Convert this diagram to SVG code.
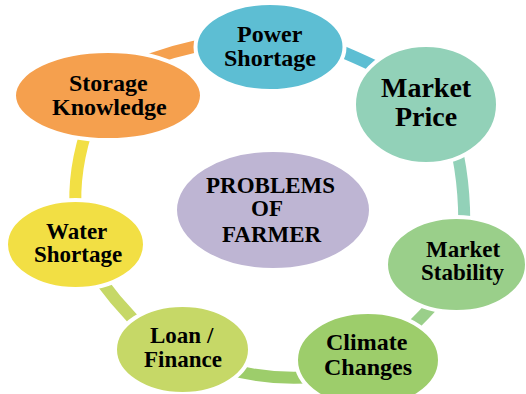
<svg xmlns="http://www.w3.org/2000/svg" width="526" height="394" viewBox="0 0 526 394">
  <rect width="526" height="394" fill="#ffffff"/>

  <!-- cycle arcs, each coloured like the node it leaves -->
  <g id="connectors" fill="none" stroke-width="12" stroke-linecap="butt">
    <path stroke="#F5A04E" d="M135,66 Q170,50 215,43"/>
    <path stroke="#5DBED3" d="M325,45 Q350,54 395,76"/>
    <path stroke="#92D1B8" d="M452,130 Q466,180 464,235"/>
    <path stroke="#9ACF8A" d="M448,288 Q425,315 398,340"/>
    <path stroke="#9DCD6B" d="M225,368 Q272,382 325,376"/>
    <path stroke="#C6D867" d="M88,262 Q112,300 150,336"/>
    <path stroke="#F2DF44" d="M90,120 Q72,170 76,215"/>
  </g>

  <!-- nodes: white-rimmed ellipses with bold serif captions -->
  <g id="center">
    <ellipse stroke="#ffffff" stroke-width="4" cx="273" cy="210" rx="98" ry="60" fill="#BEB5D3"/>
    <text font-family="Times New Roman, Liberation Serif, DejaVu Serif, serif" font-weight="bold" font-size="23" x="206" y="193">PROBLEMS</text>
    <text font-family="Times New Roman, Liberation Serif, DejaVu Serif, serif" font-weight="bold" font-size="23" x="251" y="216">OF</text>
    <text font-family="Times New Roman, Liberation Serif, DejaVu Serif, serif" font-weight="bold" font-size="23" x="222" y="242">FARMER</text>
  </g>

  <g id="power-shortage">
    <ellipse stroke="#ffffff" stroke-width="4" cx="270" cy="47" rx="74.5" ry="44" fill="#5DBED3"/>
    <text font-family="Times New Roman, Liberation Serif, DejaVu Serif, serif" font-weight="bold" font-size="24" x="237" y="42">Power</text>
    <text font-family="Times New Roman, Liberation Serif, DejaVu Serif, serif" font-weight="bold" font-size="24" x="224" y="66">Shortage</text>
  </g>

  <g id="market-price">
    <ellipse stroke="#ffffff" stroke-width="4" cx="426" cy="104.5" rx="72" ry="59.5" fill="#92D1B8"/>
    <text font-family="Times New Roman, Liberation Serif, DejaVu Serif, serif" font-weight="bold" font-size="28" x="381" y="97">Market</text>
    <text font-family="Times New Roman, Liberation Serif, DejaVu Serif, serif" font-weight="bold" font-size="28" x="395" y="126">Price</text>
  </g>

  <g id="market-stability">
    <ellipse stroke="#ffffff" stroke-width="4" cx="456.5" cy="264.5" rx="70.5" ry="47.5" fill="#9ACF8A"/>
    <text font-family="Times New Roman, Liberation Serif, DejaVu Serif, serif" font-weight="bold" font-size="23" x="426" y="257">Market</text>
    <text font-family="Times New Roman, Liberation Serif, DejaVu Serif, serif" font-weight="bold" font-size="23" x="421" y="280">Stability</text>
  </g>

  <g id="climate-changes">
    <ellipse stroke="#ffffff" stroke-width="4" cx="368" cy="360" rx="72" ry="48" fill="#9DCD6B"/>
    <text font-family="Times New Roman, Liberation Serif, DejaVu Serif, serif" font-weight="bold" font-size="24" x="326" y="350">Climate</text>
    <text font-family="Times New Roman, Liberation Serif, DejaVu Serif, serif" font-weight="bold" font-size="24" x="324" y="375">Changes</text>
  </g>

  <g id="loan-finance">
    <ellipse stroke="#ffffff" stroke-width="4" cx="182.5" cy="349.5" rx="67.5" ry="44.5" fill="#C6D867"/>
    <text font-family="Times New Roman, Liberation Serif, DejaVu Serif, serif" font-weight="bold" font-size="23" x="150" y="343">Loan /</text>
    <text font-family="Times New Roman, Liberation Serif, DejaVu Serif, serif" font-weight="bold" font-size="23" x="144" y="367">Finance</text>
  </g>

  <g id="water-shortage">
    <ellipse stroke="#ffffff" stroke-width="4" cx="75.5" cy="244.5" rx="69.5" ry="44.5" fill="#F2DF44"/>
    <text font-family="Times New Roman, Liberation Serif, DejaVu Serif, serif" font-weight="bold" font-size="23" x="46" y="239">Water</text>
    <text font-family="Times New Roman, Liberation Serif, DejaVu Serif, serif" font-weight="bold" font-size="23" x="34" y="262">Shortage</text>
  </g>

  <g id="storage-knowledge">
    <ellipse stroke="#ffffff" stroke-width="4" cx="108" cy="95.5" rx="94" ry="44.5" fill="#F5A04E"/>
    <text font-family="Times New Roman, Liberation Serif, DejaVu Serif, serif" font-weight="bold" font-size="24" x="69" y="91">Storage</text>
    <text font-family="Times New Roman, Liberation Serif, DejaVu Serif, serif" font-weight="bold" font-size="24" x="52" y="115">Knowledge</text>
  </g>
</svg>
